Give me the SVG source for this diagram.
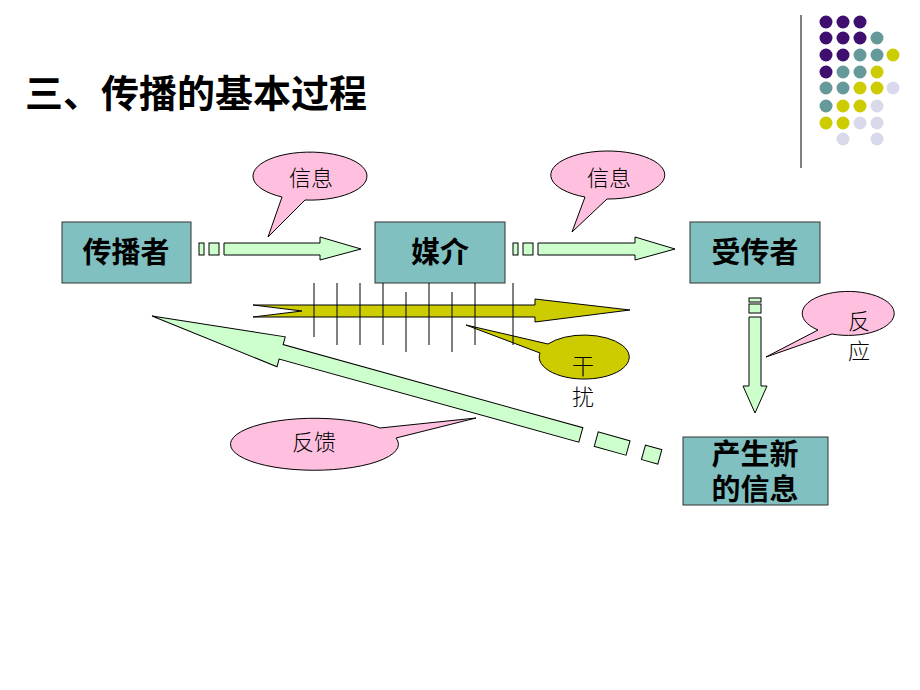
<svg xmlns="http://www.w3.org/2000/svg" width="920" height="690" viewBox="0 0 920 690">
<style>
.box{fill:#80C0C0;stroke:#333;stroke-width:1}
.bt{font-family:"Noto Sans CJK SC",sans-serif;font-size:29px;font-weight:bold;fill:#000;text-anchor:middle}
.pink{fill:#FFC0E0;stroke:#000;stroke-width:1}
.grn{fill:#CCFFCC;stroke:#000;stroke-width:1}
.yel{fill:#CCCC00;stroke:#000;stroke-width:1}
.ct{font-family:"Noto Sans CJK SC",sans-serif;font-size:22px;font-weight:300;fill:#000;text-anchor:middle}
.tick{stroke:#000;stroke-width:1}
.p{fill:#3F0F6F}.t{fill:#669999}.y{fill:#CCCC00}.l{fill:#D9D9EC}
</style>
<rect width="920" height="690" fill="#fff"/>
<g id="decor">
<line x1="801" y1="15" x2="801" y2="168" stroke="#808080" stroke-width="2"/>
<circle class="p" cx="826" cy="22" r="6.5"/><circle class="p" cx="843" cy="22" r="6.5"/><circle class="p" cx="860" cy="22" r="6.5"/>
<circle class="p" cx="826" cy="38" r="6.5"/><circle class="p" cx="843" cy="38" r="6.5"/><circle class="p" cx="860" cy="38" r="6.5"/><circle class="t" cx="877" cy="38" r="6.5"/>
<circle class="p" cx="826" cy="55" r="6.5"/><circle class="p" cx="843" cy="55" r="6.5"/><circle class="t" cx="860" cy="55" r="6.5"/><circle class="t" cx="877" cy="55" r="6.5"/><circle class="y" cx="893" cy="55" r="6.5"/>
<circle class="p" cx="826" cy="72" r="6.5"/><circle class="t" cx="843" cy="72" r="6.5"/><circle class="t" cx="860" cy="72" r="6.5"/><circle class="y" cx="877" cy="72" r="6.5"/>
<circle class="t" cx="826" cy="88" r="6.5"/><circle class="t" cx="843" cy="88" r="6.5"/><circle class="y" cx="860" cy="88" r="6.5"/><circle class="y" cx="877" cy="88" r="6.5"/><circle class="l" cx="893" cy="88" r="6.5"/>
<circle class="t" cx="826" cy="106" r="6.5"/><circle class="y" cx="843" cy="106" r="6.5"/><circle class="y" cx="860" cy="106" r="6.5"/><circle class="l" cx="877" cy="106" r="6.5"/>
<circle class="y" cx="826" cy="123" r="6.5"/><circle class="y" cx="843" cy="123" r="6.5"/><circle class="l" cx="860" cy="123" r="6.5"/><circle class="l" cx="877" cy="123" r="6.5"/>
<circle class="l" cx="843" cy="139" r="6.5"/><circle class="l" cx="877" cy="139" r="6.5"/>
</g>
<g id="title"><text x="25" y="107" font-family="'Noto Sans CJK SC',sans-serif" font-size="38" font-weight="bold" fill="#000">三、传播的基本过程</text></g>
<g id="connectors">
<rect class="grn" x="199" y="243" width="5" height="12"/><rect class="grn" x="209" y="243" width="10" height="12"/>
<polygon class="grn" points="224,243 320,243 320,237 361,249 320,260 320,255 224,255"/>
<rect class="grn" x="513" y="243" width="5" height="12"/><rect class="grn" x="523" y="243" width="10" height="12"/>
<polygon class="grn" points="538,243 635,243 635,237 675,249 635,260 635,255 538,255"/>
<rect class="grn" x="749" y="298" width="12" height="4"/><rect class="grn" x="749" y="304" width="12" height="9"/>
<polygon class="grn" points="749,317 761,317 761,386 767,386 755,413 743,386 749,386"/>
<polygon class="yel" points="253,305 535,305 535,299 630,310 535,322 535,317 253,317 302,311"/>
<g transform="translate(152,316) rotate(15.5)">
<polygon class="grn" points="0,0 134,-15.5 134,-7.5 445,-7.5 445,7.5 134,7.5 134,15.5"/>
<rect class="grn" x="461" y="-7.5" width="33" height="15"/>
<rect class="grn" x="510" y="-7.5" width="17" height="15"/>
</g>
</g>
<g id="n-sender"><rect class="box" x="62" y="222" width="129" height="61"/><text class="bt" x="126" y="263">传播者</text></g>
<g id="n-medium"><rect class="box" x="375" y="222" width="130" height="61"/><text class="bt" x="440" y="263">媒介</text></g>
<g id="n-receiver"><rect class="box" x="690" y="222" width="130" height="61"/><text class="bt" x="755" y="263">受传者</text></g>
<g id="n-newinfo"><rect class="box" x="683" y="437" width="145" height="68"/><text class="bt" x="755" y="465" font-size="27">产生新</text><text class="bt" x="755" y="500" font-size="27">的信息</text></g>
<g id="c-info1">
<path class="pink" d="M282,197 A57,24 0 1 1 305,200 L268,237 Z"/>
<text class="ct" x="311" y="186">信息</text>
</g>
<g id="c-info2">
<path class="pink" d="M585,197 A57,24 0 1 1 607,199 L572,232 Z"/>
<text class="ct" x="609" y="186">信息</text>
</g>
<g id="c-noise">
<path class="yel" d="M540,353 A45,22 0 1 0 548,344 L466,325 Z"/>
<text class="ct" x="583" y="374">干</text>
<text class="ct" x="583" y="405">扰</text>
</g>
<g id="c-react">
<path class="pink" d="M818,330 A46,22 0 1 1 832,334 L766,357 Z"/>
<text class="ct" x="859" y="329">反</text>
<text class="ct" x="859" y="359">应</text>
</g>
<g id="c-feedback">
<path class="pink" d="M396,438 A84,26 0 1 1 380,428 L476,418 Z"/>
<text class="ct" x="314" y="450">反馈</text>
</g>
<g id="ticks">
<line class="tick" x1="314" y1="283" x2="314" y2="337"/>
<line class="tick" x1="337" y1="283" x2="337" y2="345"/>
<line class="tick" x1="360" y1="283" x2="360" y2="345"/>
<line class="tick" x1="383" y1="283" x2="383" y2="345"/>
<line class="tick" x1="406" y1="292" x2="406" y2="352"/>
<line class="tick" x1="429" y1="283" x2="429" y2="345"/>
<line class="tick" x1="452" y1="292" x2="452" y2="352"/>
<line class="tick" x1="475" y1="283" x2="475" y2="345"/>
<line class="tick" x1="513" y1="283" x2="513" y2="345"/>
</g>
</svg>
